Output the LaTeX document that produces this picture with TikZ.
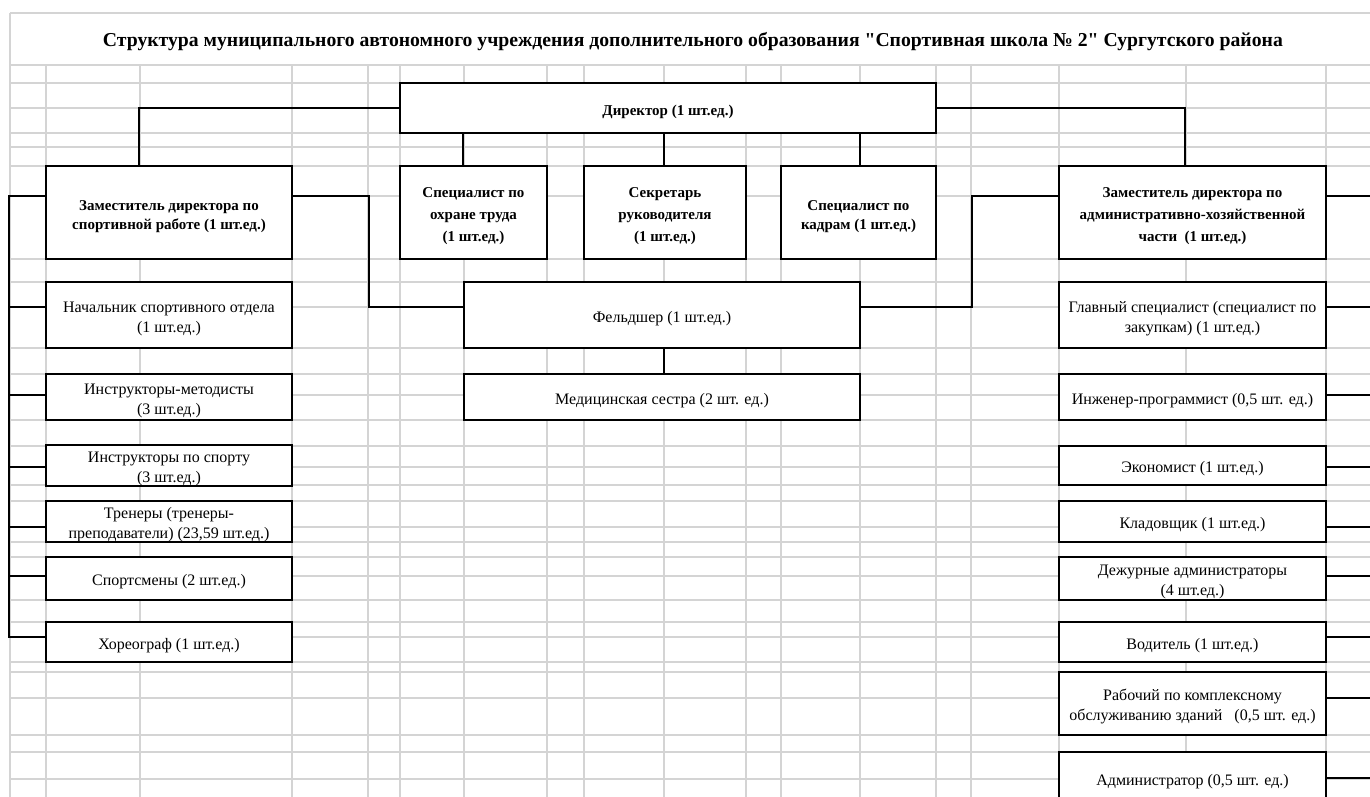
\documentclass[tikz,border=0pt]{standalone}
\usepackage{fontspec}
\setmainfont{Liberation Serif}[Ligatures=TeXOff]
\usepackage{graphicx}
\definecolor{gridc}{HTML}{D4D4D4}
\newcommand\tx[1]{\rule{0pt}{18pt}#1\rule[-3.6pt]{0pt}{0pt}}
\begin{document}
\begin{tikzpicture}[x=1pt,y=-1pt,
  gridline/.style={draw=gridc,line width=1.2pt},
  box/.style={draw=black,line width=1.8pt,fill=white,inner sep=0pt,align=center},
  rg/.style={font=\fontsize{16}{20}\selectfont},
  bd/.style={font=\bfseries\fontsize{15}{19}\selectfont},
  bdt/.style={font=\bfseries\fontsize{15}{22}\selectfont},
  con/.style={draw=black,line width=1.6pt}]
\useasboundingbox (0,0) rectangle (1370,796);
\fill[white] (0,0) rectangle (1370,796);
\clip (0,0) rectangle (1370,796);
% grid
\foreach \gx in {46,140,292,368,400,464,547,584,664,746,781,860,936,971,1059,1186,1326}
  \draw[gridline] (\gx,65) -- (\gx,800);
\draw[gridline] (10,13) -- (10,800);
\foreach \gy in {13,65,83,108,133,147,166,196,259,282,307,348,374,395,420,446,467,485,501,527,542,557,576,600,622,637,662,672,698,735,752,779}
  \draw[gridline] (10,\gy) -- (1372,\gy);
% title
\node[anchor=base,font=\bfseries\fontsize{20}{24}\selectfont] (title) at (693,46.5)
  {\resizebox{1180pt}{!}{Структура муниципального автономного учреждения дополнительного образования "Спортивная школа № 2" Сургутского района}};
% top level
\node[box,bd,minimum width=536pt,minimum height=50pt] (dir) at (668,108) {\tx{Директор (1 шт.ед.)}};
\node[box,bd,minimum width=246pt,minimum height=93pt] (zam1) at (169,212.5) {\tx{Заместитель директора по\\спортивной работе (1 шт.ед.)}};
\node[box,bdt,minimum width=147pt,minimum height=93pt] (ot) at (473.5,212.5) {\tx{Специалист по\\охране труда\\(1 шт.ед.)}};
\node[box,bdt,minimum width=162pt,minimum height=93pt] (sec) at (665,212.5) {\tx{Секретарь\\руководителя\\(1 шт.ед.)}};
\node[box,bd,minimum width=155pt,minimum height=93pt] (kadr) at (858.5,212.5) {\tx{Специалист по\\кадрам (1 шт.ед.)}};
\node[box,bdt,minimum width=267pt,minimum height=93pt] (zam2) at (1192.5,212.5) {\tx{Заместитель директора по\\административно-хозяйственной\\части\ \ (1 шт.ед.)}};
% centre
\node[box,rg,minimum width=396pt,minimum height=66pt] (feld) at (662,315) {\tx{Фельдшер (1 шт.ед.)}};
\node[box,rg,minimum width=396pt,minimum height=46pt] (med) at (662,397) {\tx{Медицинская сестра (2 шт. ед.)}};
% left column
\node[box,rg,minimum width=246pt,minimum height=66pt] (L1) at (169,315) {\tx{Начальник спортивного отдела\\(1 шт.ед.)}};
\node[box,rg,minimum width=246pt,minimum height=46pt] (L2) at (169,397) {\tx{Инструкторы-методисты\\(3 шт.ед.)}};
\node[box,rg,minimum width=246pt,minimum height=39pt] (L3) at (169,465.5) {\tx{Инструкторы по спорту\\(3 шт.ед.)}};
\node[box,rg,minimum width=246pt,minimum height=41pt] (L4) at (169,521.5) {\tx{Тренеры (тренеры-\\преподаватели) (23,59 шт.ед.)}};
\node[box,rg,minimum width=246pt,minimum height=43pt] (L5) at (169,578.5) {\tx{Спортсмены (2 шт.ед.)}};
\node[box,rg,minimum width=246pt,minimum height=40pt] (L6) at (169,642) {\tx{Хореограф (1 шт.ед.)}};
% right column
\node[box,rg,minimum width=267pt,minimum height=66pt] (R1) at (1192.5,315) {\tx{Главный специалист (специалист по\\закупкам) (1 шт.ед.)}};
\node[box,rg,minimum width=267pt,minimum height=46pt] (R2) at (1192.5,397) {\tx{Инженер-программист (0,5 шт. ед.)}};
\node[box,rg,minimum width=267pt,minimum height=39pt] (R3) at (1192.5,465.5) {\tx{Экономист (1 шт.ед.)}};
\node[box,rg,minimum width=267pt,minimum height=41pt] (R4) at (1192.5,521.5) {\tx{Кладовщик (1 шт.ед.)}};
\node[box,rg,minimum width=267pt,minimum height=43pt] (R5) at (1192.5,578.5) {\tx{Дежурные администраторы\\(4 шт.ед.)}};
\node[box,rg,minimum width=267pt,minimum height=40pt] (R6) at (1192.5,642) {\tx{Водитель (1 шт.ед.)}};
\node[box,rg,minimum width=267pt,minimum height=63pt] (R7) at (1192.5,703.5) {\tx{Рабочий по комплексному\\обслуживанию зданий\ \ \ (0,5 шт. ед.)}};
\node[box,rg,minimum width=267pt,minimum height=52pt] (R8) at (1192.5,778) {\tx{Администратор (0,5 шт. ед.)}};
% connectors from director
\draw[con] (dir.west) -| ([xshift=94pt]zam1.north west);
\draw[con] (dir.east) -| ([xshift=127pt]zam2.north west);
\draw[con] ([xshift=64pt]dir.south west) -- ([xshift=64pt]ot.north west);
\draw[con] ([xshift=-1pt]sec.north |- dir.south) -- ([xshift=-1pt]sec.north);
\draw[con] ([xshift=1.5pt]kadr.north |- dir.south) -- ([xshift=1.5pt]kadr.north);
% deputies to feldsher
\draw[con] ([yshift=16.5pt]zam1.east) -- ++(76,0) |- ([yshift=8pt]feld.west);
\draw[con] ([yshift=8pt]feld.east) -- ++(111,0) |- ([yshift=16.5pt]zam2.west);
\draw[con] ([xshift=2pt]feld.south) -- ([xshift=2pt]med.north);
% left trunk
\draw[con] ([yshift=16.5pt]zam1.west) -- ++(-36,0) |- ([yshift=5pt]L6.west);
\draw[con] ([yshift=8pt]L1.west) -- ++(-36,0);
\draw[con] ([yshift=2pt]L2.west) -- ++(-36,0);
\draw[con] ([yshift=-1.5pt]L3.west) -- ++(-36,0);
\draw[con] ([yshift=-5.5pt]L4.west) -- ++(-36,0);
\draw[con] ([yshift=2.5pt]L5.west) -- ++(-36,0);
% right branches (trunk beyond the edge)
\draw[con] ([yshift=16.5pt]zam2.east) -- ++(50,0);
\draw[con] ([yshift=8pt]R1.east) -- ++(50,0);
\draw[con] ([yshift=2pt]R2.east) -- ++(50,0);
\draw[con] ([yshift=-1.5pt]R3.east) -- ++(50,0);
\draw[con] ([yshift=-5.5pt]R4.east) -- ++(50,0);
\draw[con] ([yshift=2.5pt]R5.east) -- ++(50,0);
\draw[con] ([yshift=5pt]R6.east) -- ++(50,0);
\draw[con] ([yshift=5.5pt]R7.east) -- ++(50,0);
\draw[con] (R8.east) -- ++(50,0);
\end{tikzpicture}
\end{document}
